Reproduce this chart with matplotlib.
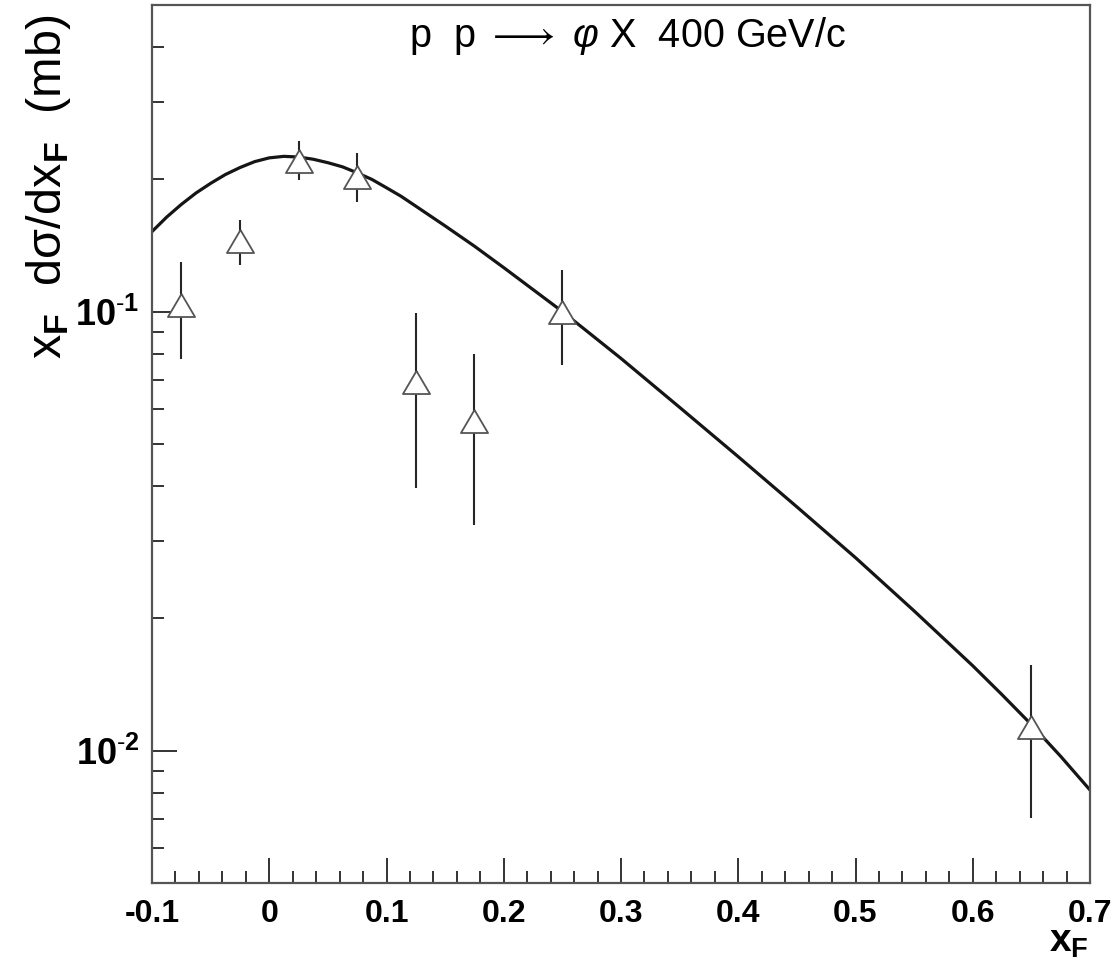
import matplotlib
matplotlib.use("Agg")
import matplotlib.pyplot as plt
from matplotlib.ticker import FixedLocator, NullFormatter, MultipleLocator
from matplotlib.font_manager import FontProperties
import numpy as np

# ---- data ----
pts_x = [-0.075, -0.025, 0.025, 0.075, 0.125, 0.175, 0.25, 0.65]
pts_y = [0.1033, 0.1447, 0.2207, 0.2025, 0.0691, 0.0563, 0.0996, 0.01134]
err_hi = [0.1297, 0.162, 0.2445, 0.2296, 0.0992, 0.0800, 0.1243, 0.01564]
err_lo = [0.078, 0.1276, 0.1998, 0.1777, 0.0397, 0.0326, 0.0757, 0.00702]

curve_x = [-0.1, -0.0875, -0.075, -0.0625, -0.05, -0.0375, -0.025, -0.0125, 0.0,
           0.0125, 0.025, 0.0375, 0.05, 0.0625, 0.075, 0.0875, 0.1, 0.1125,
           0.125, 0.15, 0.175, 0.2, 0.25, 0.3, 0.35, 0.4, 0.45, 0.5, 0.55,
           0.6, 0.625, 0.65, 0.675, 0.7]
curve_y = [0.1521, 0.1641, 0.1754, 0.1862, 0.1959, 0.2051, 0.2128, 0.2195, 0.2239,
           0.2257, 0.2249, 0.2223, 0.2183, 0.2136, 0.2070, 0.2000, 0.1914, 0.1830,
           0.1738, 0.1567, 0.1409, 0.1259, 0.1000, 0.0782, 0.0605, 0.0467, 0.0359,
           0.0275, 0.0208, 0.0156, 0.01340, 0.01146, 0.00970, 0.00813]

xticks = [-0.1, 0, 0.1, 0.2, 0.3, 0.4, 0.5, 0.6, 0.7]
xticklabels = ["-0.1", "0", "0.1", "0.2", "0.3", "0.4", "0.5", "0.6", "0.7"]
yticks = [0.01, 0.1]
yticklabels = [r"$\mathbf{10}^{\mathbf{\text{-}2}}$",
               r"$\mathbf{10}^{\mathbf{\text{-}1}}$"]

plt.rcParams['font.family'] = ['Liberation Sans', 'DejaVu Sans']
plt.rcParams['mathtext.fontset'] = 'custom'
plt.rcParams['mathtext.rm'] = 'Liberation Sans'
plt.rcParams['mathtext.it'] = 'Liberation Sans:italic'
plt.rcParams['mathtext.bf'] = 'Liberation Sans:bold'

fig = plt.figure(figsize=(11.13, 9.64), dpi=100)
ax = fig.add_axes([152/1113, 1 - 882.7/964, (1090-152)/1113, (882.7-4.7)/964])

ax.plot(curve_x, curve_y, color='#151515', lw=2.3, zorder=2,
        solid_joinstyle='round')

yerr = [np.array(pts_y) - np.array(err_lo), np.array(err_hi) - np.array(pts_y)]
ax.errorbar(pts_x, pts_y, yerr=yerr, fmt='none', ecolor='#262626', elinewidth=1.5,
            capsize=0, zorder=3)
tri = [(0, 0.85), (-1, -0.85), (1, -0.85), (0, 0.85)]
ax.plot(pts_x, pts_y, linestyle='none', marker=tri, ms=19.5, mfc='white',
        mec='#555555', mew=1.3, zorder=4)

ax.set_yscale('log')
ax.set_xlim(-0.1, 0.7)
ax.set_ylim(0.005, 0.5)

ax.set_xticks(xticks)
ax.set_xticklabels(xticklabels, fontsize=23, fontweight='bold')
ax.xaxis.set_minor_locator(MultipleLocator(0.02))
ax.set_yticks(yticks)
ax.set_yticklabels(yticklabels, fontsize=26)
minor = [k * 10.0**e for e in (-3, -2, -1) for k in range(2, 10)]
ax.yaxis.set_minor_locator(FixedLocator(minor))
ax.yaxis.set_minor_formatter(NullFormatter())

ax.tick_params(which='both', direction='in', top=False, right=False,
               color='#333333', width=1.4)
ax.tick_params(axis='x', which='major', length=18, pad=12)
ax.tick_params(axis='y', which='major', length=18, pad=9)
ax.tick_params(which='minor', length=8.5)
for s in ax.spines.values():
    s.set_color('#555555')
    s.set_linewidth(1.6)

ax.text(0.5075, 0.9646, r"p  p $\longrightarrow$ $\varphi$ X  400 GeV/c",
        transform=ax.transAxes, ha='center', va='center', fontsize=28.5)

ax.set_ylabel("x$_{\\mathbf{F}}$  d\u03C3/dx$_{\\mathbf{F}}$  (mb)", loc='top')
ax.yaxis.label.set_fontproperties(FontProperties(family='Liberation Sans', size=35))
ax.yaxis.set_label_coords(-0.084, 0.989)

ax.set_xlabel(r"$\mathbf{x_F}$", fontsize=28)
ax.xaxis.set_label_coords(0.999, -0.088)
ax.xaxis.label.set_horizontalalignment('right')
ax.xaxis.label.set_verticalalignment('bottom')

fig.savefig("out.png", dpi=100)
